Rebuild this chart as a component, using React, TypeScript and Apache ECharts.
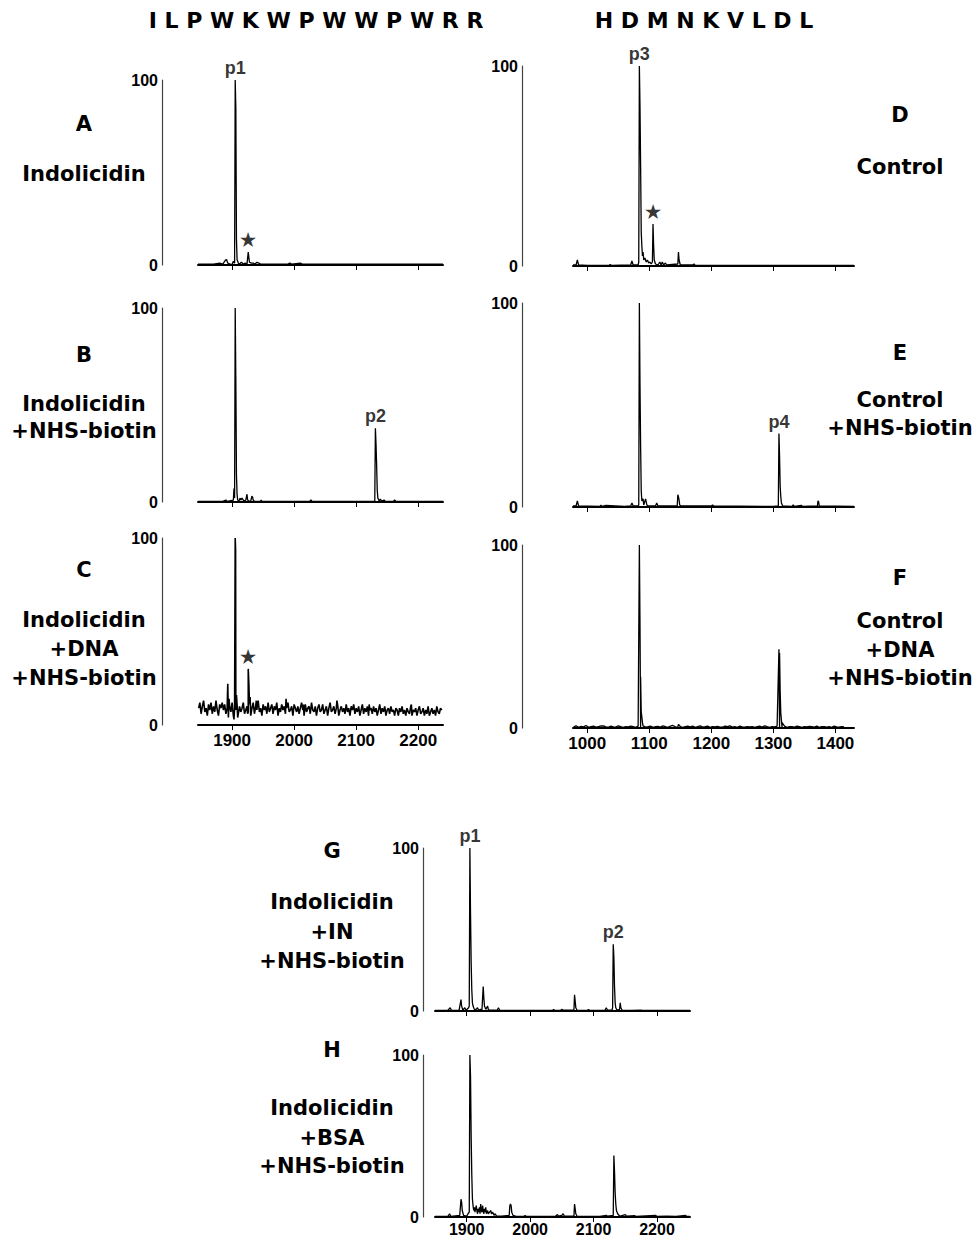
import React, { useEffect, useRef } from "react";
import * as echarts from "echarts";

type Pt = [number, number];

const seqLeft = "I L P W K W P W W P W R R";
const seqRight = "H D M N K V L D L";

const ticksIndo = [1900, 2000, 2100, 2200];
const ticksCtrl = [1000, 1100, 1200, 1300, 1400];

const specA: Pt[] = [[1845,0.5],[1870,0.5],[1880,1],[1885,0.5],[1889,2.5],[1891,3],[1893,1],[1897,0.5],[1900,0.3],[1902,2],[1904,1],[1905,100],[1906,85],[1907,14],[1908,3],[1910,1],[1912,0.5],[1915,1.5],[1918,0.5],[1921,1],[1924,0.5],[1926,7],[1927,4],[1928,1.5],[1931,1],[1934,1],[1937,0.5],[1940,1.5],[1943,1],[1946,0.5],[1990,0.5],[1993,1],[1996,0.5],[2010,1],[2013,0.5],[2240,0.5]];

const specB: Pt[] = [[1845,0.3],[1885,0.3],[1890,1],[1892,0.3],[1902,1],[1903,7],[1904,2],[1905,100],[1906,63],[1907,14],[1908,4],[1909,1],[1911,0.5],[1913,2],[1914,1],[1916,2],[1917,1.5],[1919,0.5],[1922,1],[1924,4],[1925,1],[1927,0.5],[1930,0.5],[1932,3],[1933,2.5],[1934,1],[1936,0.3],[1946,0.5],[1947,1],[1948,0.3],[2000,0.3],[2025,0.3],[2027,1],[2029,0.3],[2120,0.3],[2130,0.5],[2131,38],[2132,30],[2133,19],[2134,6],[2135,2],[2137,0.5],[2139,1.5],[2141,0.5],[2145,1],[2147,0.3],[2160,0.3],[2162,1],[2164,0.3],[2240,0.3]];

const noiseCStart = 1846;
const noiseCStep = 2;
const noiseC = [
  9,12,6,10,13,7,9,5,11,8,12,6,10,7,13,8,5,11,9,12,
  8,11,6,9,4,10,7,12,5,9,8,11,6,10,7,9,12,6,8,10,
  7,11,5,9,12,6,10,8,13,7,9,5,11,8,10,6,12,7,9,11,
  6,10,8,12,5,9,7,11,8,10,6,9,12,7,8,10,5,11,9,7,
  10,6,9,12,8,5,11,7,9,10,6,12,8,7,10,5,9,11,7,8,
  11,6,8,10,5,9,12,7,8,10,6,9,11,5,8,10,7,9,6,11,
  7,9,5,10,8,11,6,9,7,10,5,8,11,6,9,7,10,5,8,9,
  6,10,7,9,5,8,11,6,9,7,10,5,8,9,6,10,7,8,5,9,
  8,5,9,7,10,6,8,5,9,7,6,10,5,8,7,9,5,8,10,6,
  7,9,5,8,6,10,5,7,9,6,8,5,10,7,6,9,8
];
const peaksC: Pt[] = [[1893,22],[1895,14],[1903,3],[1905,100],[1905.6,93],[1907,16],[1909,4],[1925,6],[1926,30],[1927,22],[1929,15],[1939,13],[1941,12],[1987,14],[2015,11],[2069,13],[2121,11],[2189,11]];

const specD: Pt[] = [[977,0.5],[982,0.5],[984,3],[986,0.5],[1000,0.3],[1035,0.3],[1037,0.8],[1039,0.3],[1070,0.5],[1072,2.5],[1074,0.5],[1082,0.5],[1083,2],[1084,100],[1085,80],[1086,50],[1087,17],[1088,10],[1089,5],[1090,7],[1091,3],[1093,4],[1095,2],[1097,3],[1099,1.5],[1101,2],[1103,1],[1105,2],[1106,21],[1107,10],[1108,3],[1110,1],[1114,0.5],[1117,2],[1119,0.5],[1121,2],[1123,0.5],[1126,1.5],[1128,0.5],[1146,1],[1147,7],[1148,3],[1150,0.5],[1170,0.5],[1172,1],[1174,0.3],[1430,0.3]];

const specE: Pt[] = [[977,0.5],[982,0.5],[984,3],[986,0.5],[1020,0.3],[1022,0.8],[1024,0.3],[1030,0.8],[1060,0.3],[1070,0.5],[1072,2],[1074,0.5],[1082,0.5],[1083,1],[1084,100],[1085,60],[1086,30],[1087,8],[1088,3],[1090,4],[1091,1],[1093,3],[1094,4],[1096,1],[1098,0.5],[1110,0.5],[1112,2],[1114,0.5],[1145,0.5],[1146,6],[1147,5],[1148,3.5],[1149,1],[1151,0.5],[1200,0.5],[1202,1],[1204,0.5],[1300,0.3],[1308,0.5],[1309,36],[1310,25],[1311,10],[1312,5],[1313,2],[1315,0.5],[1330,0.3],[1332,1],[1334,0.3],[1345,0.8],[1347,0.3],[1371,0.5],[1372,3],[1373,2.5],[1374,0.5],[1430,0.3]];

const noiseFStart = 978;
const noiseFStep = 4;
const noiseF = [
  0.6,1.2,0.4,0.9,0.6,1.4,0.4,0.7,1,0.5,0.8,1.1,
  1.2,0.6,0.4,1,0.6,0.5,1.2,0.7,0.4,0.8,0.6,1,
  0.7,0.4,1,0.6,1.2,0.5,0.7,1,0.4,0.7,0.9,0.5,
  1.2,0.7,0.4,1,1.4,0.6,0.5,0.8,0.4,0.7,1,0.6,
  1,0.4,0.7,1.2,0.5,0.7,1,0.4,0.8,0.6,0.9,0.5,
  0.4,1,0.7,1.2,0.5,0.7,0.4,1,0.6,0.5,0.8,0.6,
  0.8,0.4,0.7,1,0.5,1.2,0.7,0.4,0.8,0.6,1,0.5,
  0.5,1,0.4,0.7,0.8,0.5,1,0.7,0.4,0.8,0.6,0.9,
  0.7,0.5,1,0.4,0.7,0.8,0.5,0.7,0.4,1,0.6,0.5,0.8,0.6
];
const peaksF: Pt[] = [[1084,100],[1085,57],[1086,28],[1087,9],[1089,3],[1147,2],[1309,43],[1310,41],[1311,20],[1312,8],[1314,3]];

const specG: Pt[] = [[1850,0.3],[1870,0.3],[1874,2],[1876,0.3],[1888,0.5],[1891,7],[1892,3],[1894,0.5],[1897,2],[1899,0.5],[1903,2],[1904,3],[1905,100],[1906,60],[1907,30],[1908,13],[1909,5],[1910,3],[1912,1],[1915,1],[1917,2],[1919,0.5],[1922,1],[1924,0.5],[1926,15],[1927,8],[1928,3],[1930,1],[1933,3],[1934,1],[1936,0.5],[1948,0.5],[1950,2],[1952,0.5],[1990,0.3],[2035,0.3],[2037,1],[2039,0.3],[2048,0.5],[2050,1],[2052,0.5],[2069,0.5],[2070,10],[2071,6],[2072,2],[2074,0.5],[2090,0.3],[2092,1],[2094,0.3],[2118,0.5],[2120,2],[2122,0.5],[2129,0.5],[2130,2],[2131,41],[2132,33],[2133,15],[2134,5],[2135,2],[2137,0.5],[2141,1],[2142,5],[2143,2],[2145,0.5],[2160,0.3],[2175,0.5],[2177,0.3],[2252,0.3]];

const specH: Pt[] = [[1850,0.3],[1870,0.3],[1873,2],[1875,0.3],[1889,1],[1891,11],[1892,9],[1893,4],[1895,1],[1900,0.5],[1902,2],[1904,3],[1905,100],[1906,87],[1907,50],[1908,26],[1909,11],[1910,7],[1911,4],[1912,6],[1913,3],[1915,7],[1916,4],[1917,2],[1918,5],[1919,3],[1920,6],[1921,2],[1922,8],[1923,4],[1924,3],[1925,7],[1926,4],[1927,2],[1928,5],[1929,3],[1930,6],[1931,2],[1933,4],[1934,2],[1936,3],[1938,4],[1939,2],[1941,3],[1943,1],[1945,2],[1947,0.5],[1955,0.5],[1967,1],[1968,7],[1969,8],[1970,7],[1971,3],[1973,1],[1977,0.5],[1990,0.3],[1992,1],[1994,0.3],[2040,0.5],[2043,1.5],[2045,0.5],[2050,1],[2052,2],[2054,0.5],[2069,0.5],[2070,8],[2071,5],[2072,2],[2074,0.5],[2110,0.3],[2120,1],[2122,0.5],[2131,1],[2132,38],[2133,28],[2134,15],[2135,8],[2136,4],[2138,2],[2140,1],[2142,0.5],[2150,1.5],[2152,0.5],[2165,0.8],[2167,0.3],[2198,1],[2200,0.3],[2215,0.5],[2230,0.3],[2245,1],[2247,0.3],[2252,0.3]];

type Ann = { name: string; mz: number; y: number };
const annA: Ann[] = [{ name: "p1", mz: 1905, y: 100 }, { name: "★", mz: 1926, y: 7 }];
const annB: Ann[] = [{ name: "p2", mz: 2131, y: 38 }];
const annC: Ann[] = [{ name: "★", mz: 1926, y: 30 }];
const annD: Ann[] = [{ name: "p3", mz: 1084, y: 100 }, { name: "★", mz: 1106, y: 21 }];
const annE: Ann[] = [{ name: "p4", mz: 1309, y: 36 }];
const annF: Ann[] = [];
const annG: Ann[] = [{ name: "p1", mz: 1905, y: 100 }, { name: "p2", mz: 2131, y: 41 }];
const annH: Ann[] = [];

const withNoise = (start: number, step: number, noise: number[], peaks: Pt[]): Pt[] =>
  noise.map((v, i) => [start + i * step, v] as Pt).concat(peaks).sort((a, b) => a[0] - b[0]);

const specC = withNoise(noiseCStart, noiseCStep, noiseC, peaksC);
const specF = withNoise(noiseFStart, noiseFStep, noiseF, peaksF);

const layout = [
  { data: specA, ann: annA, left: 198, top: 80, width: 245, height: 185, yOff: 36, min: 1845, max: 2240, ticks: ticksIndo, labels: false, lw: 1.3, fs: 17, mg: 7 },
  { data: specB, ann: annB, left: 198, top: 308, width: 245, height: 194, yOff: 36, min: 1845, max: 2240, ticks: ticksIndo, labels: false, lw: 1.3, fs: 17, mg: 7 },
  { data: specC, ann: annC, left: 198, top: 538, width: 245, height: 187, yOff: 36, min: 1845, max: 2240, ticks: ticksIndo, labels: true, lw: 1.6, fs: 17, mg: 7 },
  { data: specD, ann: annD, left: 573, top: 66, width: 281, height: 200, yOff: 51, min: 977, max: 1430, ticks: ticksCtrl, labels: false, lw: 1.3, fs: 17, mg: 7 },
  { data: specE, ann: annE, left: 573, top: 303, width: 281, height: 204, yOff: 51, min: 977, max: 1430, ticks: ticksCtrl, labels: false, lw: 1.3, fs: 17, mg: 7 },
  { data: specF, ann: annF, left: 573, top: 545, width: 281, height: 183, yOff: 51, min: 977, max: 1430, ticks: ticksCtrl, labels: true, lw: 1.3, fs: 17, mg: 7 },
  { data: specG, ann: annG, left: 435, top: 848, width: 255, height: 163, yOff: 12, min: 1850, max: 2252, ticks: ticksIndo, labels: false, lw: 1.3, fs: 16, mg: 5 },
  { data: specH, ann: annH, left: 435, top: 1055, width: 255, height: 162, yOff: 12, min: 1850, max: 2252, ticks: ticksIndo, labels: true, lw: 1.3, fs: 16, mg: 4 },
];

const sideLabels: { x: number; lines: [string, number][] }[] = [
  { x: 84, lines: [["A", 124], ["Indolicidin", 174]] },
  { x: 84, lines: [["B", 355], ["Indolicidin", 404], ["+NHS-biotin", 431]] },
  { x: 84, lines: [["C", 570], ["Indolicidin", 620], ["+DNA", 649], ["+NHS-biotin", 678]] },
  { x: 900, lines: [["D", 115], ["Control", 167]] },
  { x: 900, lines: [["E", 353], ["Control", 400], ["+NHS-biotin", 428]] },
  { x: 900, lines: [["F", 578], ["Control", 621], ["+DNA", 650], ["+NHS-biotin", 678]] },
  { x: 332, lines: [["G", 851], ["Indolicidin", 902], ["+IN", 932], ["+NHS-biotin", 961]] },
  { x: 332, lines: [["H", 1050], ["Indolicidin", 1108], ["+BSA", 1138], ["+NHS-biotin", 1166]] },
];

const ARIAL = "'Liberation Sans', Arial, sans-serif";

export default function App() {
  const ref = useRef<HTMLDivElement>(null);
  useEffect(() => {
    if (!ref.current) return;
    const chart = echarts.init(ref.current, undefined, { renderer: "svg" });
    const grid: any[] = [];
    const xAxis: any[] = [];
    const yAxis: any[] = [];
    const series: any[] = [];
    layout.forEach((p, i) => {
      grid.push({ left: p.left, top: p.top, width: p.width, height: p.height, containLabel: false, outerBoundsMode: "none" });
      xAxis.push({
        type: "value", gridIndex: i, min: p.min, max: p.max,
        splitLine: { show: false },
        axisLine: { show: true, onZero: false, lineStyle: { color: "#000", width: 2 } },
        axisTick: { show: true, length: 5, customValues: p.ticks, lineStyle: { color: "#000", width: 1 } },
        axisLabel: {
          show: p.labels, customValues: p.ticks, color: "#000", fontWeight: "bold", fontSize: p.fs,
          fontFamily: ARIAL, margin: p.mg, formatter: (v: number) => String(v),
        },
      });
      yAxis.push({
        type: "value", gridIndex: i, min: 0, max: 100, interval: 100, offset: p.yOff,
        splitLine: { show: false },
        axisLine: { show: true, lineStyle: { color: "#444", width: 1.2 } },
        axisTick: { show: false },
        axisLabel: { color: "#000", fontWeight: "bold", fontSize: 16, fontFamily: ARIAL, margin: 4 },
      });
      series.push({
        type: "line", xAxisIndex: i, yAxisIndex: i, data: p.data, showSymbol: false, symbol: "none",
        lineStyle: { color: "#000", width: p.lw }, silent: true,
      });
      if (p.ann.length) {
        series.push({
          type: "scatter", xAxisIndex: i, yAxisIndex: i, symbolSize: 0, silent: true,
          data: p.ann.map((a) => ({ name: a.name, value: [a.mz, a.y] })),
          label: {
            show: true, position: "top", distance: 3, formatter: (d: any) => d.name,
            color: "#000", fontWeight: "bold", fontFamily: ARIAL, fontSize: 18,
          },
        });
      }
    });
    const graphic: any[] = [
      { type: "text", style: { text: seqLeft, x: 316, y: 20, align: "center", verticalAlign: "middle", font: "bold 22px 'DejaVu Sans', sans-serif", fill: "#000" } },
      { type: "text", style: { text: seqRight, x: 704, y: 20, align: "center", verticalAlign: "middle", font: "bold 22px 'DejaVu Sans', sans-serif", fill: "#000" } },
    ];
    sideLabels.forEach((s) => {
      s.lines.forEach(([t, y]) => {
        graphic.push({ type: "text", style: { text: t, x: s.x, y, align: "center", verticalAlign: "middle", font: "bold 21px 'DejaVu Sans', sans-serif", fill: "#000" } });
      });
    });
    chart.setOption({
      animation: false,
      backgroundColor: "#fff",
      grid, xAxis, yAxis, series, graphic,
    });
    return () => chart.dispose();
  }, []);
  return <div ref={ref} style={{ position: "absolute", left: 0, top: 0, width: 975, height: 1240 }} />;
}
